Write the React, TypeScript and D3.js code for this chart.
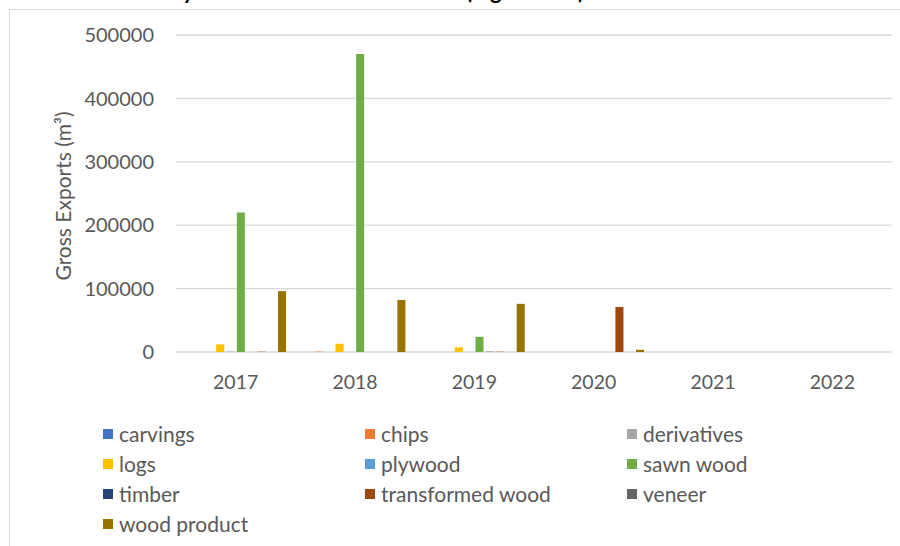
import React from "react";
import * as d3 from "d3";

const years = ["2017", "2018", "2019", "2020", "2021", "2022"];
const seriesNames = [
  "carvings",
  "chips",
  "derivatives",
  "logs",
  "plywood",
  "sawn wood",
  "timber",
  "transformed wood",
  "veneer",
  "wood product",
];
const seriesColors = [
  "#4472C4",
  "#ED7D31",
  "#A5A5A5",
  "#FFC000",
  "#5B9BD5",
  "#70AD47",
  "#264478",
  "#9E480E",
  "#636363",
  "#997300",
];
// values per series, one per year
const carvings = [0, 0, 0, 0, 0, 0];
const chips = [0, 600, 0, 0, 0, 0];
const derivatives = [0, 0, 0, 0, 0, 0];
const logs = [12000, 13000, 7500, 0, 0, 0];
const plywood = [500, 0, 0, 0, 0, 0];
const sawnWood = [220000, 470000, 24000, 0, 0, 0];
const timber = [0, 0, 400, 0, 0, 0];
const transformedWood = [400, 0, 400, 71000, 0, 0];
const veneer = [0, 0, 0, 0, 0, 0];
const woodProduct = [96000, 82000, 76000, 3500, 0, 0];
const seriesValues = [
  carvings,
  chips,
  derivatives,
  logs,
  plywood,
  sawnWood,
  timber,
  transformedWood,
  veneer,
  woodProduct,
];
const yTicks = [0, 100000, 200000, 300000, 400000, 500000];

const FONT = "Lato, 'Open Sans', sans-serif";
const TEXT = "#595959";
const GRID = "#d9d9d9";

export default function App() {
  const W = 900;
  const H = 546;
  const plot = { left: 176, right: 892, top: 35, bottom: 352 };

  const x = d3.scaleBand<string>().domain(years).range([plot.left, plot.right]).paddingInner(0).paddingOuter(0);
  const xs = d3
    .scaleBand<string>()
    .domain(seriesNames)
    .range([0, x.bandwidth()])
    .paddingInner(0.22)
    .paddingOuter(0.9);
  const y = d3.scaleLinear().domain([0, 500000]).range([plot.bottom, plot.top]);

  return (
    <svg
      width={W}
      height={H}
      style={{ position: "absolute", left: 0, top: 0, background: "#fff" }}
      fontFamily={FONT}
    >
      <rect x={9.5} y={9.5} width={1000} height={1000} fill="#fff" stroke={GRID} strokeWidth={1} />
      <text x={462} y={-1.5} textAnchor="end" fontSize={22} fontWeight="bold" fill="#000">
        Total Timber Trade by Main Wood Product Forms
      </text>
      <text x={466} y={-1.5} textAnchor="start" fontSize={22} fontWeight="bold" fill="#000">
        (log volume)
      </text>

      {yTicks.map((t) => (
        <g key={t}>
          <line x1={plot.left} x2={plot.right} y1={y(t)} y2={y(t)} stroke={GRID} strokeWidth={1.3} />
          <text x={154} y={y(t)} dy="0.36em" textAnchor="end" fontSize={20} fill={TEXT}>
            {t}
          </text>
        </g>
      ))}

      {seriesNames.map((s, si) =>
        years.map((yr, yi) => {
          const v = seriesValues[si][yi];
          if (!v) return null;
          const x0 = (x(yr) as number) + (xs(s) as number);
          return (
            <rect
              key={s + yr}
              x={x0}
              y={y(v)}
              width={xs.bandwidth()}
              height={plot.bottom - y(v)}
              fill={seriesColors[si]}
            />
          );
        })
      )}

      {years.map((yr) => (
        <text
          key={yr}
          x={(x(yr) as number) + x.bandwidth() / 2}
          y={382}
          dy="0.36em"
          textAnchor="middle"
          fontSize={19.5}
          fill={TEXT}
        >
          {yr}
        </text>
      ))}

      <text
        transform={`translate(63,196) rotate(-90)`}
        textAnchor="middle"
        dy="0.36em"
        fontSize={21}
        fill={TEXT}
      >
        Gross Exports (m³)
      </text>

      {seriesNames.map((s, i) => {
        const col = i % 3;
        const row = Math.floor(i / 3);
        const lx = 103 + col * 262;
        const ly = 434 + row * 30;
        return (
          <g key={s}>
            <rect x={lx} y={ly - 5} width={10} height={10} fill={seriesColors[i]} />
            <text x={119} dx={col * 262} y={ly} dy="0.36em" fontSize={21} fill={TEXT}>
              {s}
            </text>
          </g>
        );
      })}
    </svg>
  );
}
